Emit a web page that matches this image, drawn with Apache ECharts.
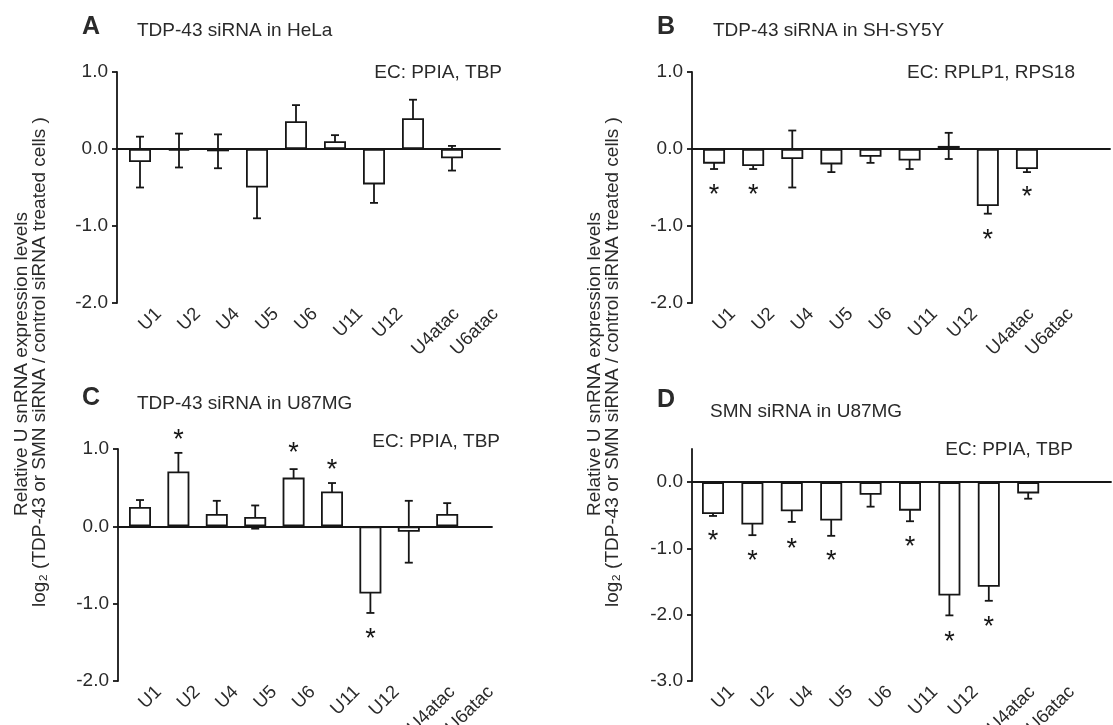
<!DOCTYPE html>
<html>
<head>
<meta charset="utf-8">
<script src="https://cdn.jsdelivr.net/npm/echarts@6/dist/echarts.min.js"></script>
<style>
html, body { margin: 0; background: #fff; }
#plot { width: 1113px; height: 725px; }
</style>
</head>
<body>
<div id="plot"></div>
<script>
// snRNA categories, same for all four panels
var cats = ['U1', 'U2', 'U4', 'U5', 'U6', 'U11', 'U12', 'U4atac', 'U6atac'];

// A: TDP-43 siRNA in HeLa
var meanA = [-0.17, -0.02, -0.03, -0.50, 0.36, 0.10, -0.46, 0.40, -0.12];
var errA  = [0.33, 0.22, 0.22, 0.40, 0.21, 0.08, 0.24, 0.24, 0.16];
var starA = [];

// B: TDP-43 siRNA in SH-SY5Y
var meanB = [-0.19, -0.22, -0.13, -0.20, -0.10, -0.15, 0.04, -0.74, -0.26];
var errB  = [0.07, 0.04, 0.37, 0.10, 0.08, 0.11, 0.17, 0.10, 0.04];
var starB = [[0, -0.54], [1, -0.54], [7, -1.13], [8, -0.57]];

// C: TDP-43 siRNA in U87MG
var meanC = [0.25, 0.71, 0.16, 0.12, 0.63, 0.45, -0.87, -0.07, 0.16];
var errC  = [0.09, 0.24, 0.17, 0.15, 0.11, 0.11, 0.25, 0.40, 0.14];
var starC = [[1, 1.17], [4, 1.00], [5, 0.78], [6, -1.40]];

// D: SMN siRNA in U87MG
var meanD = [-0.48, -0.64, -0.44, -0.58, -0.19, -0.43, -1.71, -1.58, -0.17];
var errD  = [0.03, 0.16, 0.16, 0.23, 0.18, 0.16, 0.30, 0.21, 0.08];
var starD = [[0, -0.82], [1, -1.13], [2, -0.94], [3, -1.12], [5, -0.91], [6, -2.34], [7, -2.12]];

var ticksABC = [-2, -1, 0, 1];
var ticksD = [-3, -2, -1, 0];

var FONT = '"Liberation Sans", Arial, Helvetica, sans-serif';
var INK = '#161616';
var TXT = '#2a2a2a';

var ctx = document.createElement('canvas').getContext('2d');
function textWidth(s, size) {
	ctx.font = size + 'px ' + FONT;
	return ctx.measureText(s).width;
}

var panels = [
	{ letter: 'A', title: 'TDP-43 siRNA in HeLa', ec: 'EC: PPIA, TBP', mean: meanA, err: errA, star: starA,
	  min: -2, max: 1, ticks: ticksABC, axisX: 117, lineEnd: 500, barLeft: 120.5, barW: 351, top: 72, height: 231,
	  lx: 91, ly: 27, tx: 137, ty: 31, ecx: 502, ecy: 73 },
	{ letter: 'B', title: 'TDP-43 siRNA in SH-SY5Y', ec: 'EC: RPLP1, RPS18', mean: meanB, err: errB, star: starB,
	  min: -2, max: 1, ticks: ticksABC, axisX: 692, lineEnd: 1110, barLeft: 694.5, barW: 352, top: 72, height: 231,
	  lx: 666, ly: 27, tx: 713, ty: 31, ecx: 1075, ecy: 73 },
	{ letter: 'C', title: 'TDP-43 siRNA in U87MG', ec: 'EC: PPIA, TBP', mean: meanC, err: errC, star: starC,
	  min: -2, max: 1, ticks: ticksABC, axisX: 118, lineEnd: 492, barLeft: 120.8, barW: 345.6, top: 449, height: 232,
	  lx: 91, ly: 398, tx: 137, ty: 404, ecx: 500, ecy: 442 },
	{ letter: 'D', title: 'SMN siRNA in U87MG', ec: 'EC: PPIA, TBP', mean: meanD, err: errD, star: starD,
	  min: -3, max: 0.5, ticks: ticksD, axisX: 692, lineEnd: 1111, barLeft: 693.3, barW: 354.6, top: 449, height: 232,
	  lx: 666, ly: 400, tx: 710, ty: 412, ecx: 1073, ecy: 450 }
];

var grid = [], xAxis = [], yAxis = [], series = [], graphic = [];

panels.forEach(function (p, k) {
	var gLine = 2 * k, gBar = 2 * k + 1;
	grid.push({ left: p.axisX, top: p.top, width: p.lineEnd - p.axisX, height: p.height });
	grid.push({ left: p.barLeft, top: p.top, width: p.barW, height: p.height });

	// zero line and visible y axis
	xAxis.push({
		gridIndex: gLine, type: 'value', min: 0, max: 1,
		axisLine: { onZero: true, lineStyle: { color: INK, width: 1.8 } },
		axisTick: { show: false }, axisLabel: { show: false }, splitLine: { show: false }
	});
	yAxis.push({
		gridIndex: gLine, type: 'value', min: p.min, max: p.max, interval: 1,
		axisLine: { show: true, lineStyle: { color: INK, width: 1.8 } },
		axisTick: { show: true, length: 5, customValues: p.ticks, lineStyle: { color: INK, width: 1.8 } },
		axisLabel: {
			customValues: p.ticks, margin: 9, color: TXT, fontFamily: FONT, fontSize: 19,
			formatter: function (v) { return v.toFixed(1); }
		},
		splitLine: { show: false }
	});
	// bar axes
	xAxis.push({ gridIndex: gBar, type: 'category', data: cats, show: false });
	yAxis.push({ gridIndex: gBar, type: 'value', min: p.min, max: p.max, show: false });

	series.push({
		type: 'bar', xAxisIndex: gBar, yAxisIndex: gBar, data: p.mean, barWidth: 22,
		itemStyle: { color: '#fff', borderColor: INK, borderWidth: 1.8 },
		silent: true
	});

	series.push({
		type: 'custom', xAxisIndex: gBar, yAxisIndex: gBar, silent: true,
		data: p.mean.map(function (m, i) { return [i, m - p.err[i], m + p.err[i]]; }),
		renderItem: function (params, api) {
			var a = api.coord([api.value(0), api.value(1)]);
			var b = api.coord([api.value(0), api.value(2)]);
			var hw = 4, st = { stroke: INK, lineWidth: 1.8 };
			return { type: 'group', children: [
				{ type: 'line', shape: { x1: a[0], y1: a[1], x2: b[0], y2: b[1] }, style: st },
				{ type: 'line', shape: { x1: a[0] - hw, y1: a[1], x2: a[0] + hw, y2: a[1] }, style: st },
				{ type: 'line', shape: { x1: b[0] - hw, y1: b[1], x2: b[0] + hw, y2: b[1] }, style: st }
			] };
		}
	});

	series.push({
		type: 'custom', xAxisIndex: gBar, yAxisIndex: gBar, silent: true,
		data: p.star,
		renderItem: function (params, api) {
			var c = api.coord([api.value(0), api.value(1)]);
			return { type: 'text', x: c[0], y: c[1] + 5,
				style: { text: '*', fill: INK, font: '27px ' + FONT, align: 'center', verticalAlign: 'middle' } };
		}
	});

	// rotated category labels under each panel
	series.push({
		type: 'custom', xAxisIndex: gBar, yAxisIndex: gBar, silent: true,
		data: cats.map(function (c, i) { return [i, p.min]; }),
		renderItem: function (params, api) {
			var name = cats[params.dataIndex];
			var c = api.coord([api.value(0), api.value(1)]);
			var w = textWidth(name, 18.5);
			return { type: 'text', x: c[0] + w * 0.707 + 2, y: c[1] + 8, rotation: Math.PI / 4,
				style: { text: name, fill: TXT, font: '18.5px ' + FONT, align: 'right', verticalAlign: 'middle' } };
		}
	});

	graphic.push(
		{ type: 'text', x: p.lx, y: p.ly, style: { text: p.letter, fill: TXT, font: 'bold 25px ' + FONT, align: 'center', verticalAlign: 'middle' } },
		{ type: 'text', x: p.tx, y: p.ty, style: { text: p.title, fill: TXT, font: '19px ' + FONT, align: 'left', verticalAlign: 'middle' } },
		{ type: 'text', x: p.ecx, y: p.ecy, style: { text: p.ec, fill: TXT, font: '19px ' + FONT, align: 'right', verticalAlign: 'middle' } }
	);
});

// shared y axis titles, left and right columns
var yTitle1 = 'Relative U snRNA expression levels';
var yTitle2 = 'log\u2082 (TDP-43 or SMN siRNA / control siRNA treated cells )';
[[22, 40], [595, 613]].forEach(function (xs) {
	graphic.push(
		{ type: 'text', x: xs[0], y: 364, rotation: Math.PI / 2,
		  style: { text: yTitle1, fill: TXT, font: '19px ' + FONT, align: 'center', verticalAlign: 'middle' } },
		{ type: 'text', x: xs[1], y: 362, rotation: Math.PI / 2,
		  style: { text: yTitle2, fill: TXT, font: '19px ' + FONT, align: 'center', verticalAlign: 'middle' } }
	);
});

var myChart = echarts.init(document.getElementById('plot'));
myChart.setOption({
	backgroundColor: '#fff',
	animation: false,
	grid: grid,
	xAxis: xAxis,
	yAxis: yAxis,
	series: series,
	graphic: graphic
});
</script>
</body>
</html>
